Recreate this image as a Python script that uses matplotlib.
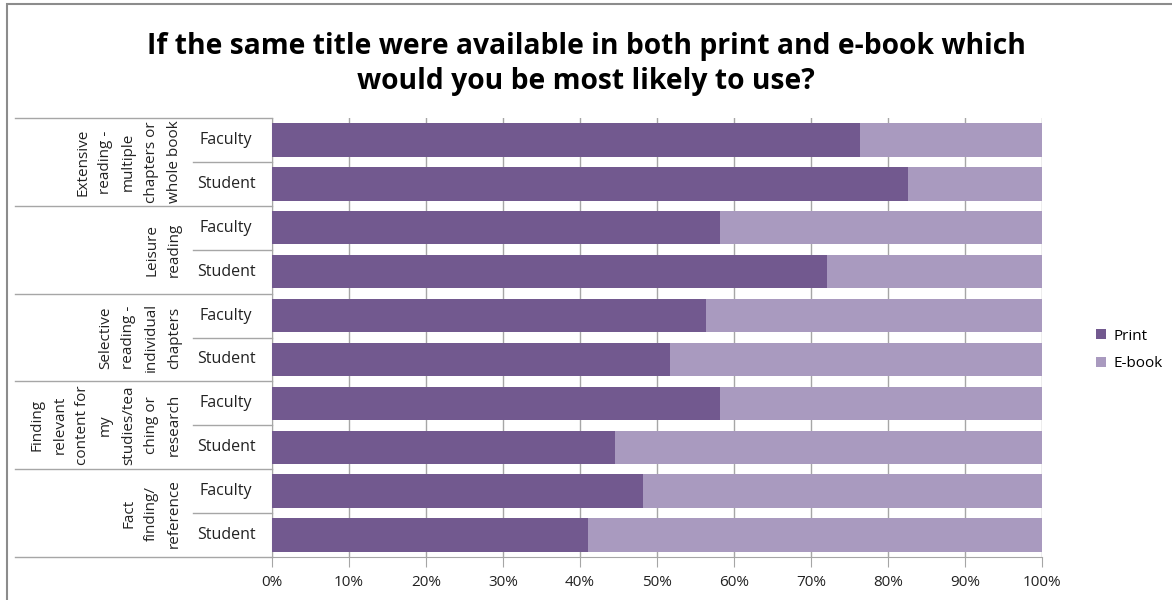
import matplotlib
matplotlib.use("Agg")
import matplotlib.pyplot as plt
from matplotlib.transforms import blended_transform_factory
from matplotlib.patches import Rectangle
from matplotlib.lines import Line2D

plt.rcParams['font.family'] = ['Open Sans', 'DejaVu Sans']

title = "If the same title were available in both print and e-book which\nwould you be most likely to use?"
groups = [
    "Extensive\nreading -\nmultiple\nchapters or\nwhole book",
    "Leisure\nreading",
    "Selective\nreading -\nindividual\nchapters",
    "Finding\nrelevant\ncontent for\nmy\nstudies/tea\nching or\nresearch",
    "Fact\nfinding/\nreference",
]
subgroups = ["Faculty", "Student"]
print_pct = [76.4, 82.6, 58.2, 72.1, 56.4, 51.7, 58.2, 44.5, 48.2, 41.1]
ebook_pct = [100 - v for v in print_pct]
xticks = [0, 10, 20, 30, 40, 50, 60, 70, 80, 90, 100]
series_names = ["Print", "E-book"]

c_print = "#72598F"
c_ebook = "#A99ABF"
grid_c = "#A6A6A6"
W, H = 1172, 600

fig = plt.figure(figsize=(W / 100, H / 100), dpi=100)
def fx(px): return px / W
def fy(py): return 1 - py / H

ax_l, ax_r, ax_t, ax_b = 272, 1042, 118, 557
ax = fig.add_axes([fx(ax_l), fy(ax_b), fx(ax_r) - fx(ax_l), fy(ax_t) - fy(ax_b)])

n = len(print_pct)
ys = list(range(n))
ax.barh(ys, print_pct, height=0.76, color=c_print, label=series_names[0], zorder=3)
ax.barh(ys, ebook_pct, left=print_pct, height=0.76, color=c_ebook, label=series_names[1], zorder=3)
ax.set_xlim(0, 100)
ax.set_ylim(n - 0.5, -0.5)
ax.set_xticks(xticks)
ax.set_xticklabels([f"{t}%" for t in xticks], fontsize=11)
ax.tick_params(axis='x', length=7, color=grid_c, pad=6, labelcolor="#222222")
ax.set_yticks([])
ax.grid(axis='x', color=grid_c, linewidth=1, zorder=0)
for s in ["top", "right"]:
    ax.spines[s].set_visible(False)
ax.spines["left"].set_color(grid_c)
ax.spines["bottom"].set_color(grid_c)

# category table on the left
tr = blended_transform_factory(fig.transFigure, ax.transData)
for gi in range(len(groups) + 1):
    yb = gi * 2 - 0.5
    fig.add_artist(Line2D([fx(15), fx(ax_l)], [yb, yb], transform=tr, color=grid_c, lw=1))
for gi in range(len(groups)):
    ym = gi * 2 + 0.5
    fig.add_artist(Line2D([fx(193), fx(ax_l)], [ym, ym], transform=tr, color=grid_c, lw=1))
for i in range(n):
    fig.text(fx(226), i, subgroups[i % 2], transform=tr, ha='center', va='center',
             fontsize=11.5, color="#222222")
for gi, g in enumerate(groups):
    yc = gi * 2 + 0.5
    fig.text(fx(182), yc, g, transform=tr, rotation=90, ha='right', va='center',
             multialignment='center', fontsize=11, color="#222222", linespacing=1.72)

fig.text(0.5, fy(64), title, ha='center', va='center', fontsize=20.3, fontweight='bold',
         linespacing=1.25, color="#000000")

leg = fig.legend(loc='center left', bbox_to_anchor=(fx(1082), fy(350)), frameon=False,
                 fontsize=11, handlelength=0.65, handleheight=0.65, labelspacing=0.85,
                 handletextpad=0.5)

fig.add_artist(Rectangle((fx(7), fy(H + 10)), fx(W + 20), fy(4) - fy(H + 10),
                         transform=fig.transFigure, fill=False, edgecolor="#8C8C8C", lw=1.5))

fig.savefig("out.png", dpi=100)
